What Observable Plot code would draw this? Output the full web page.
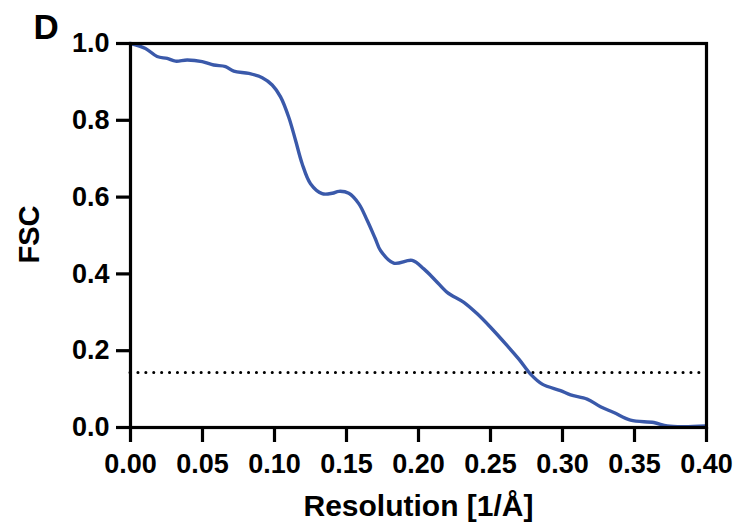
<!DOCTYPE html>
<html>
<head>
<meta charset="utf-8">
<script src="https://cdn.jsdelivr.net/npm/d3@7"></script>
<script src="https://cdn.jsdelivr.net/npm/@observablehq/plot@0.6"></script>
<style>
  html, body { margin: 0; padding: 0; background: #fff; }
  svg { font-family: "Liberation Sans", Arial, sans-serif; font-weight: bold; }
</style>
</head>
<body>
<div id="chart"></div>
<script>
// Resolution (1/Å)
const resolution = [0, 0.0104, 0.0185, 0.0255, 0.0313, 0.0394, 0.0498, 0.0578, 0.0660, 0.0717,
  0.0822, 0.0915, 0.0984, 0.1042, 0.1099, 0.1146, 0.1192, 0.125, 0.1331, 0.1401,
  0.1447, 0.1516, 0.1585, 0.1644, 0.1701, 0.1736, 0.1828, 0.1956, 0.2037, 0.2118,
  0.2199, 0.2315, 0.2408, 0.25, 0.2616, 0.2697, 0.2778, 0.2859, 0.2986, 0.3056,
  0.3171, 0.3264, 0.3356, 0.3472, 0.3634, 0.3727, 0.3842, 0.3993];
// FSC values
const fsc = [1.0, 0.987, 0.966, 0.961, 0.954, 0.957, 0.953, 0.944, 0.940, 0.928,
  0.922, 0.911, 0.892, 0.861, 0.808, 0.748, 0.687, 0.635, 0.609, 0.610,
  0.615, 0.610, 0.583, 0.539, 0.491, 0.461, 0.428, 0.435, 0.413, 0.383,
  0.352, 0.326, 0.296, 0.261, 0.213, 0.178, 0.139, 0.113, 0.096, 0.085,
  0.074, 0.054, 0.039, 0.019, 0.013, 0.004, 0.002, 0.004];
const threshold = [0.143];
const xTicks = [0, 0.05, 0.10, 0.15, 0.20, 0.25, 0.30, 0.35, 0.40];
const yTicks = [0, 0.2, 0.4, 0.6, 0.8, 1.0];
const xTitle = "Resolution [1/Å]";
const yTitle = "FSC";
const panel = "D";

const data = resolution.map((r, i) => ({r, f: fsc[i]}));

const chart = Plot.plot({
  width: 739,
  height: 529,
  marginLeft: 130,
  marginRight: 33,
  marginTop: 43,
  marginBottom: 102,
  style: {fontFamily: "'Liberation Sans', Arial, sans-serif", fontWeight: "bold", background: "#fff"},
  x: {domain: [0, 0.4]},
  y: {domain: [0, 1]},
  marks: [
    Plot.ruleY(threshold, {stroke: "#000", strokeWidth: 3, strokeDasharray: "0.1,7.8", strokeLinecap: "round"}),
    Plot.line(data, {x: "r", y: "f", stroke: "#3a59aa", strokeWidth: 3.4, curve: "catmull-rom"}),
    Plot.frame({stroke: "#000", strokeWidth: 3.2}),
    Plot.axisX(xTicks, {tickSize: 15, tickPadding: 11, tickFormat: d3.format(".2f"), fontSize: 27, fontWeight: "bold", strokeWidth: 3.2, stroke: "#000", fill: "#000", label: null}),
    Plot.axisY(yTicks, {tickSize: 14, tickPadding: 7, tickFormat: d3.format(".1f"), fontSize: 27, fontWeight: "bold", strokeWidth: 3.2, stroke: "#000", fill: "#000", label: null}),
    Plot.text([xTitle], {text: d => d, frameAnchor: "bottom", dy: 79, lineAnchor: "middle", fontSize: 30, fontWeight: "bold", fill: "#000"}),
    Plot.text([yTitle], {text: d => d, frameAnchor: "left", textAnchor: "middle", dx: -101, dy: -1, rotate: -90, lineAnchor: "middle", fontSize: 29, fontWeight: "bold", fill: "#000"}),
    Plot.text([panel], {text: d => d, frameAnchor: "top-left", textAnchor: "start", dx: -97, dy: -16, lineAnchor: "middle", fontSize: 35, fontWeight: "bold", fill: "#000"})
  ]
});
document.getElementById("chart").appendChild(chart);
</script>
</body>
</html>
